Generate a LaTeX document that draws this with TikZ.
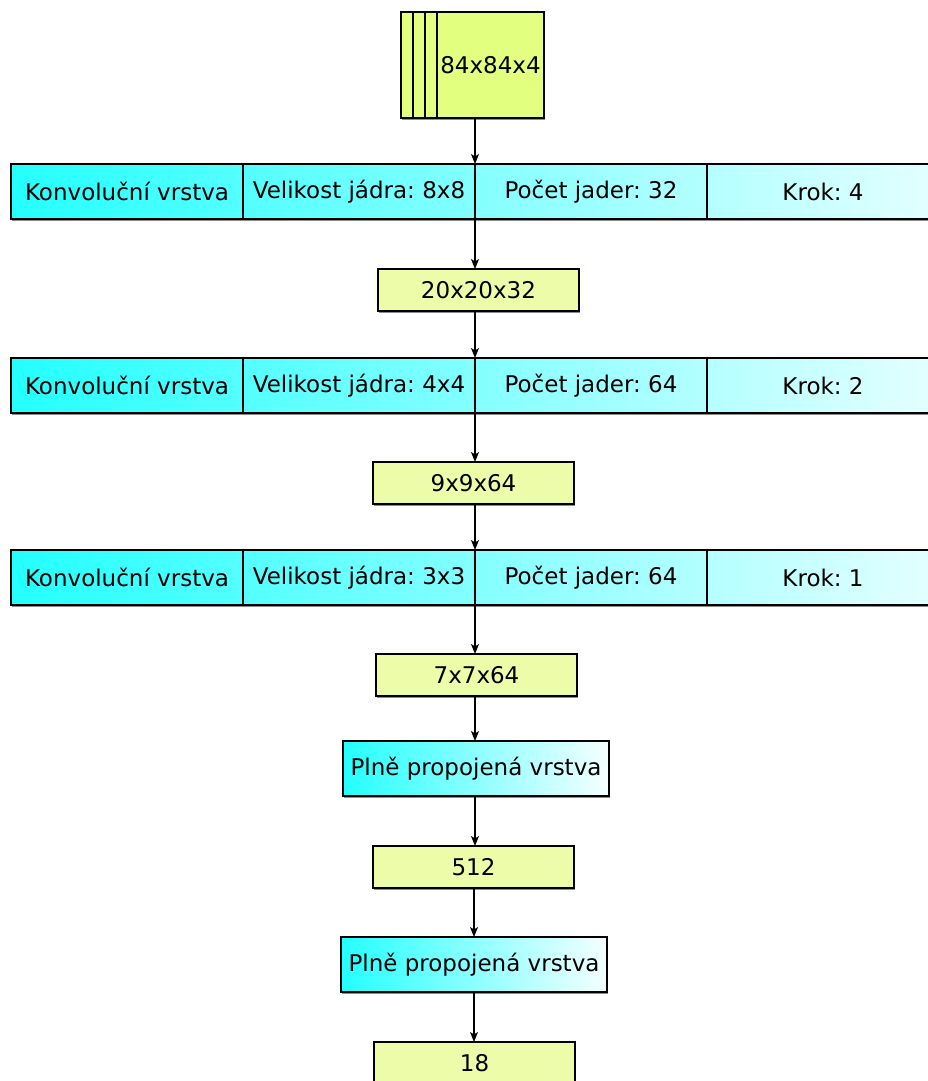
\documentclass[tikz,border=0pt]{standalone}
\usepackage{fontspec}
\setmainfont{DejaVu Sans}
\frenchspacing
\usetikzlibrary{arrows.meta,shadows}
\definecolor{sheetfill}{RGB}{226,255,128}
\definecolor{datafill}{RGB}{237,252,168}
\definecolor{layerleft}{RGB}{36,255,255}
\definecolor{layerright}{RGB}{228,255,255}
\tikzset{
  x=1pt, y=-1pt,
  every node/.style={font=\fontsize{23}{27}\selectfont, inner sep=0pt, outer sep=0pt},
  boxshadow/.style={drop shadow={shadow xshift=0.6pt, shadow yshift=-1.5pt, fill=black!45, opacity=1}},
  sheet/.style={draw, line width=1.2pt, fill=sheetfill, minimum width=107pt, minimum height=106pt, anchor=north west, boxshadow},
  datum/.style={draw, line width=1.2pt, fill=datafill, minimum width=201pt, minimum height=42pt, anchor=north west, boxshadow},
  bar/.style={draw, line width=1.2pt, left color=layerleft, right color=layerright, minimum width=928pt, minimum height=55pt, anchor=north west, boxshadow},
  cell/.style={draw, line width=1.2pt, minimum width=232pt, minimum height=55pt},
  dense/.style={draw, line width=1.2pt, left color=layerleft, right color=white!96!cyan, minimum width=266pt, minimum height=55pt, anchor=north west, boxshadow},
  arr/.style={line width=1.2pt, -{Stealth[length=10pt,width=8pt,inset=2.5pt]}},
}
\begin{document}
\begin{tikzpicture}
\useasboundingbox (0,0) rectangle (928,1081);
\coordinate (spine) at (475,0);
\coordinate (spinelow) at (474,0);

% input: stack of four frames
\node[sheet] (f1) at (401,12) {};
\node[sheet] (f2) at (413,12) {};
\node[sheet] (f3) at (425,12) {};
\node[sheet] (f4) at (437,12) {84x84x4};

% convolution layer 1
\node[bar] (c1) at (11,164) {};
\node[cell] (c1a) at (127,191.5) {Konvoluční vrstva};
\node[cell] (c1b) at (359,191.5) {Velikost jádra: 8x8};
\node[cell] (c1c) at (591,191.5) {Počet jader: 32};
\node[cell] (c1d) at (823,191.5) {Krok: 4};

\node[datum] (d1) at (378,269) {20x20x32};

% convolution layer 2
\node[bar] (c2) at (11,358) {};
\node[cell] (c2a) at (127,385.5) {Konvoluční vrstva};
\node[cell] (c2b) at (359,385.5) {Velikost jádra: 4x4};
\node[cell] (c2c) at (591,385.5) {Počet jader: 64};
\node[cell] (c2d) at (823,385.5) {Krok: 2};

\node[datum] (d2) at (373,462) {9x9x64};

% convolution layer 3
\node[bar] (c3) at (11,550) {};
\node[cell] (c3a) at (127,577.5) {Konvoluční vrstva};
\node[cell] (c3b) at (359,577.5) {Velikost jádra: 3x3};
\node[cell] (c3c) at (591,577.5) {Počet jader: 64};
\node[cell] (c3d) at (823,577.5) {Krok: 1};

\node[datum] (d3) at (376,654) {7x7x64};

% fully connected layers
\node[dense] (fc1) at (343,741) {Plně propojená vrstva};
\node[datum] (d4) at (373,846) {512};
\node[dense] (fc2) at (341,937) {Plně propojená vrstva};
\node[datum] (d5) at (374,1042) {18};

% data flow
\draw[arr] (f1.south -| spine) -- (c1.north -| spine);
\draw[arr] (c1.south -| spine) -- (d1.north -| spine);
\draw[arr] (d1.south -| spine) -- (c2.north -| spine);
\draw[arr] (c2.south -| spine) -- (d2.north -| spine);
\draw[arr] (d2.south -| spine) -- (c3.north -| spine);
\draw[arr] (c3.south -| spine) -- (d3.north -| spine);
\draw[arr] (d3.south -| spine) -- (fc1.north -| spine);
\draw[arr] (fc1.south -| spine) -- (d4.north -| spine);
\draw[arr] (d4.south -| spinelow) -- (fc2.north -| spinelow);
\draw[arr] (fc2.south -| spinelow) -- (d5.north -| spinelow);
\end{tikzpicture}
\end{document}
